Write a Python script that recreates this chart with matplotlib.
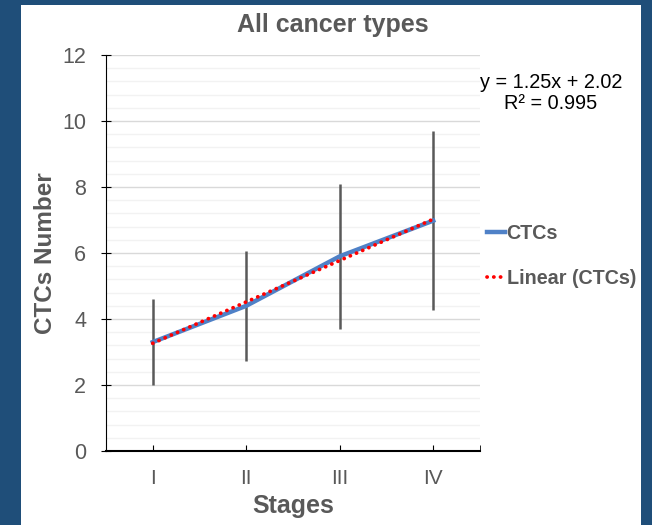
"""CTCs number by cancer stage, all cancer types
"""

import numpy as np
import matplotlib.pyplot as plt
from matplotlib.patches import Rectangle

plt.rcParams["font.family"] = ["Liberation Sans", "DejaVu Sans"]

stages = ["I", "II", "III", "IV"]
ctcs = [3.3, 4.4, 5.9, 6.98]
ctcs_err = [1.3, 1.67, 2.2, 2.72]
eq_text = "y = 1.25x + 2.02"
r2_text = "R² = 0.995"

GRAY = "#595959"
BLUE = "#4F81C7"

fig = plt.figure(figsize=(6.52, 5.25), dpi=100)
fig.patch.set_facecolor("#1F4E79")
fig.patches.append(Rectangle((21 / 652, 0), 620 / 652, 520 / 525,
                             transform=fig.transFigure, fc="white", ec="none", zorder=-5))

ax = fig.add_axes([106 / 652, 1 - 451 / 525, 374 / 652, 396 / 525])
ax.set_facecolor("white")

x = np.arange(1, len(stages) + 1)
ax.errorbar(x, ctcs, yerr=ctcs_err, fmt="none", ecolor=GRAY, elinewidth=1.8,
            capsize=0, zorder=2)
ax.plot(x, ctcs, color=BLUE, lw=3.2, label="CTCs", zorder=3)
m, b = np.polyfit(x, ctcs, 1)
ax.plot(x, m * x + b, color="red", lw=2.7, ls=(0, (0.05, 1.75)),
        dash_capstyle="round", label="Linear (CTCs)", zorder=4)

ax.set_xlim(0.5, 4.5)
ax.set_ylim(0, 12)
ax.set_xticks(x)
ax.set_xticklabels(stages)
ax.set_xticks([4.5], minor=True)
ax.tick_params(axis="x", which="both", direction="in", length=4, color="black")
ax.tick_params(axis="x", which="major", pad=13, labelsize=15, labelcolor=GRAY)
ax.set_yticks(np.arange(0, 13, 2))
ax.set_yticks(np.arange(0, 12.01, 0.4), minor=True)
ax.tick_params(axis="y", which="major", direction="inout", length=6.5, color="black",
               labelsize=15.5, labelcolor=GRAY, pad=11)
ax.tick_params(axis="y", which="minor", length=0)
ax.grid(axis="y", which="major", color="#D9D9D9", lw=1)
ax.grid(axis="y", which="minor", color="#F2F2F2", lw=1)
ax.set_axisbelow(True)
for s in ["top", "right"]:
    ax.spines[s].set_visible(False)
ax.spines["left"].set_color("black")
ax.spines["bottom"].set_color("black")
ax.spines["bottom"].set_linewidth(1.5)

fig.text(333 / 652, 1 - 25 / 525, "All cancer types", ha="center", va="center",
         fontsize=18, fontweight="bold", color=GRAY)
ax.set_xlabel("Stages", fontsize=18, fontweight="bold", color=GRAY, labelpad=4)
ax.set_ylabel("CTCs Number", fontsize=17.5, fontweight="bold", color=GRAY, labelpad=4)

fig.text(551 / 652, 1 - 82 / 525, eq_text, ha="center", va="center", fontsize=14.3,
         color="black")
fig.text(551 / 652, 1 - 103 / 525, r2_text, ha="center", va="center", fontsize=14.3,
         color="black")

leg = ax.legend(loc="center left", bbox_to_anchor=(487 / 652, 1 - 256 / 525),
                bbox_transform=fig.transFigure, frameon=False, handlelength=0.9,
                handletextpad=0.1, labelspacing=1.3, borderpad=0, borderaxespad=0,
                prop={"size": 14.2, "weight": "bold"})
for t in leg.get_texts():
    t.set_color(GRAY)

plt.savefig("out.png", dpi=100)
plt.close()
